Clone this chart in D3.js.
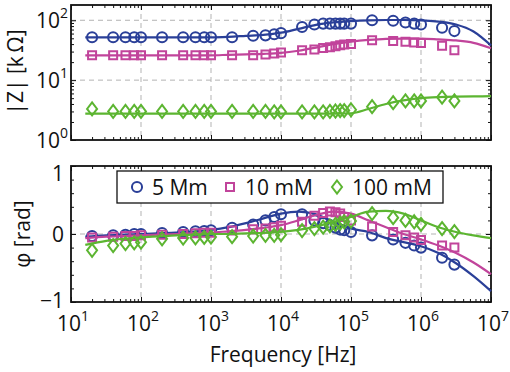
<!DOCTYPE html>
<html>
<head>
<meta charset="utf-8">
<script src="https://cdn.jsdelivr.net/npm/d3@7"></script>
<style>
body { margin: 0; background: #fff; }
text { font-family: "Open Sans", sans-serif; fill: #111; }
</style>
</head>
<body>
<svg id="chart" width="510" height="372"></svg>
<script>
// measured frequencies (Hz)
const freq = [20, 40, 60, 80, 100, 200, 400, 600, 800, 1000, 2000, 4000, 6000, 8000, 10000,
  20000, 30000, 40000, 50000, 60000, 70000, 80000, 100000, 200000, 400000, 600000, 800000, 1e6, 2e6, 3e6]

// |Z| in kOhm
const zBlue = [52, 52, 52, 52, 52, 52, 52, 52, 52, 52, 52, 55, 56, 58.5, 61,
  77, 85, 88, 88, 88, 88, 88, 88, 100, 98, 92, 88, 85, 75, 66]
const zPink = [26, 26, 26, 26, 26, 26, 26, 26, 26, 26, 26, 26.1, 26.9, 27.9, 28.9,
  31.6, 32.6, 34.5, 35.6, 36.8, 38.3, 39.4, 40, 46.4, 45.2, 43.6, 42.4, 41.9, 37.7, 31.6]
const zGreen = [3.3, 3.0, 3.0, 3.0, 3.0, 3.0, 3.0, 3.0, 3.0, 3.0, 3.0, 3.0, 3.0, 2.95, 2.95,
  2.95, 2.95, 2.95, 3.0, 3.05, 3.1, 3.1, 3.2, 3.6, 4.2, 4.5, 4.5, 4.5, 5.2, 4.5]

// phase in rad
const phBlue = [-0.03, -0.02, -0.01, 0, 0, 0.015, 0.03, 0.04, 0.045, 0.055, 0.09, 0.14, 0.2, 0.25, 0.29,
  0.29, 0.2, 0.16, 0.13, 0.094, 0.065, 0.055, 0.03, -0.02, -0.08, -0.13, -0.17, -0.2, -0.35, -0.45]
const phPink = [-0.05, -0.04, -0.03, -0.03, -0.02, -0.01, 0, 0.01, 0.02, 0.02, 0.05, 0.07, 0.08, 0.1, 0.12,
  0.18, 0.27, 0.31, 0.33, 0.32, 0.3, 0.25, 0.2, 0.11, 0.03, -0.02, -0.05, -0.09, -0.17, -0.2]
const phGreen = [-0.24, -0.17, -0.14, -0.13, -0.12, -0.07, -0.06, -0.055, -0.05, -0.045, -0.04, -0.03, -0.02, -0.02, -0.01,
  0.05, 0.08, 0.1, 0.12, 0.14, 0.16, 0.18, 0.19, 0.3, 0.24, 0.2, 0.18, 0.14, 0.08, 0.035]

// fitted curves
const fitFreq = [16, 32, 56, 100, 178, 316, 562, 1000, 1778, 3162, 5623, 10000, 17783, 31623, 56234,
  100000, 177828, 316228, 562341, 1e6, 1778279, 3162278, 5623413, 1e7]
const fitZBlue = [52, 52, 52, 52, 52, 52, 52, 52, 53, 55, 57, 62, 72, 84, 92,
  97, 100, 101, 101, 100, 95, 85, 65, 38]
const fitZPink = [26, 26, 26, 26, 26, 26, 26, 26, 26.5, 27, 27.5, 28.5, 31, 35, 40,
  44, 47, 49, 49.5, 49.5, 48, 46, 42, 34]
const fitZGreen = [2.75, 2.75, 2.75, 2.75, 2.75, 2.75, 2.75, 2.75, 2.75, 2.75, 2.75, 2.75, 2.75, 2.75, 2.75,
  2.8, 3.3, 4.0, 4.6, 5.0, 5.2, 5.3, 5.35, 5.4]
const fitPhBlue = [-0.04, -0.02, -0.01, 0, 0.01, 0.02, 0.035, 0.06, 0.1, 0.16, 0.23, 0.3, 0.33, 0.29, 0.18,
  0.08, 0.03, -0.06, -0.12, -0.18, -0.28, -0.43, -0.62, -0.84]
const fitPhPink = [-0.06, -0.04, -0.03, -0.02, -0.01, 0, 0.01, 0.02, 0.04, 0.06, 0.09, 0.13, 0.2, 0.28, 0.33,
  0.3, 0.2, 0.1, 0.0, -0.08, -0.17, -0.28, -0.42, -0.59]
const fitPhGreen = [-0.16, -0.1, -0.07, -0.05, -0.035, -0.02, -0.01, 0, 0, 0.01, 0.015, 0.03, 0.06, 0.11, 0.18,
  0.25, 0.33, 0.34, 0.3, 0.2, 0.1, 0.03, -0.02, -0.06]

const seriesNames = ['5 Mm', '10 mM', '100 mM']
const seriesColors = ['#2a3f98', '#c1449b', '#5cb531']
const xTicks = [1e1, 1e2, 1e3, 1e4, 1e5, 1e6, 1e7]
const zTicks = [1, 10, 100]
const phTicks = [-1, 0, 1]

const svg = d3.select('#chart')
const left = 71, right = 491

const x = d3.scaleLog().domain([10, 1e7]).range([left, right])
const yZ = d3.scaleLog().domain([1, 180]).range([140, 5])
const yP = d3.scaleLinear().domain([-1, 1]).range([302, 166])

const xMinor = []
for (let d = 1; d < 7; d++) for (let m = 2; m < 10; m++) xMinor.push(m * Math.pow(10, d))
const zMinor = []
for (let d = 0; d < 3; d++) for (let m = 2; m < 10; m++) if (m * Math.pow(10, d) < 180) zMinor.push(m * Math.pow(10, d))
const pMinor = d3.range(-0.8, 0.81, 0.2)

function panel(y, yTicks, yMinor, top, bottom, gridY){
    const g = svg.append('g')
    // dashed grid
    g.selectAll('.gx').data(xTicks.slice(1, -1)).enter().append('line')
        .attr('x1', d => x(d)).attr('x2', d => x(d))
        .attr('y1', top).attr('y2', bottom)
        .attr('stroke', '#b3b3b3').attr('stroke-dasharray', '5,4')
    g.selectAll('.gy').data(gridY).enter().append('line')
        .attr('x1', left).attr('x2', right)
        .attr('y1', d => y(d)).attr('y2', d => y(d))
        .attr('stroke', '#b3b3b3').attr('stroke-dasharray', '5,4')

    // ticks on all four sides, pointing inward
    const axes = [
        [d3.axisBottom(x).tickValues(xTicks).tickSize(-5), `translate(0,${bottom})`],
        [d3.axisBottom(x).tickValues(xMinor).tickSize(-3), `translate(0,${bottom})`],
        [d3.axisTop(x).tickValues(xTicks).tickSize(-5), `translate(0,${top})`],
        [d3.axisTop(x).tickValues(xMinor).tickSize(-3), `translate(0,${top})`],
        [d3.axisLeft(y).tickValues(yTicks).tickSize(-5), `translate(${left},0)`],
        [d3.axisLeft(y).tickValues(yMinor).tickSize(-3), `translate(${left},0)`],
        [d3.axisRight(y).tickValues(yTicks).tickSize(-5), `translate(${right},0)`],
        [d3.axisRight(y).tickValues(yMinor).tickSize(-3), `translate(${right},0)`]
    ]
    axes.forEach(([ax, tr]) => {
        const a = g.append('g').attr('transform', tr).call(ax.tickFormat(''))
        a.select('.domain').remove()
        a.selectAll('line').attr('stroke', '#111').attr('stroke-width', 1)
    })
    g.append('rect')
        .attr('x', left).attr('y', top)
        .attr('width', right - left).attr('height', bottom - top)
        .attr('fill', 'none').attr('stroke', '#111').attr('stroke-width', 1.8)
    return g
}

function supText(g, xPos, yPos, base, exp, anchor){
    const t = g.append('text').attr('x', xPos).attr('y', yPos)
        .attr('text-anchor', anchor).attr('font-size', 21)
    t.append('tspan').text(base)
    t.append('tspan').attr('dy', -10).attr('font-size', 14).text(exp)
}

const gTop = panel(yZ, zTicks, zMinor, 5, 140, [10, 100])
const gBot = panel(yP, phTicks, pMinor, 166, 302, [0])

// tick labels
zTicks.forEach(t => supText(svg, 68, yZ(t) + 8, '10', Math.log10(t), 'end'))
xTicks.forEach(t => supText(svg, x(t) + 2, 331, '10', Math.log10(t), 'middle'))
phTicks.forEach(t => {
    svg.append('text')
        .attr('x', 64).attr('y', Math.min(Math.max(yP(t), 173), 300) + 8)
        .attr('text-anchor', 'end').attr('font-size', 21)
        .text(t < 0 ? '\u2212' + Math.abs(t) : t)
})

// axis titles
svg.append('text').attr('x', 283).attr('y', 362)
    .attr('text-anchor', 'middle').attr('font-size', 21).text('Frequency [Hz]')
svg.append('text').attr('transform', 'translate(23,72) rotate(-90)')
    .attr('text-anchor', 'middle').attr('font-size', 21).text('|Z| [k\u2009\u03a9]')
svg.append('text').attr('transform', 'translate(30,234) rotate(-90)')
    .attr('text-anchor', 'middle').attr('font-size', 21).text('\u03c6 [rad]')

// markers
const shapes = [
    d3.symbol().type(d3.symbolCircle).size(80)(),
    d3.symbol().type(d3.symbolSquare).size(64)(),
    'M0,-6.5L5,0L0,6.5L-5,0Z'
]

function drawSeries(g, y, fitVals, vals, i){
    const line = d3.line()
        .x((d, k) => x(fitFreq[k]))
        .y(d => y(d))
        .curve(d3.curveMonotoneX)
    g.append('path').datum(fitVals)
        .attr('d', line)
        .attr('fill', 'none').attr('stroke', seriesColors[i]).attr('stroke-width', 2.2)
    g.selectAll('.m' + i).data(vals).enter().append('path')
        .attr('transform', (d, k) => `translate(${x(freq[k])},${y(d)})`)
        .attr('d', shapes[i])
        .attr('fill', 'none').attr('stroke', seriesColors[i]).attr('stroke-width', 2)
}

const plotTop = svg.append('g')
const plotBot = svg.append('g')
;[[fitZBlue, zBlue], [fitZPink, zPink], [fitZGreen, zGreen]].forEach((s, i) => drawSeries(plotTop, yZ, s[0], s[1], i))
;[[fitPhBlue, phBlue], [fitPhPink, phPink], [fitPhGreen, phGreen]].forEach((s, i) => drawSeries(plotBot, yP, s[0], s[1], i))

// legend
const leg = svg.append('g')
leg.append('rect').attr('x', 117).attr('y', 171).attr('width', 326).attr('height', 32)
    .attr('fill', '#fff').attr('stroke', '#111').attr('stroke-width', 1.3)
const legX = [137, 230, 337]
seriesNames.forEach((name, i) => {
    leg.append('path').attr('transform', `translate(${legX[i]},187)`)
        .attr('d', shapes[i])
        .attr('fill', 'none').attr('stroke', seriesColors[i]).attr('stroke-width', 2)
    leg.append('text').attr('x', legX[i] + 15).attr('y', 195)
        .attr('font-size', 21).text(name)
})
</script>
</body>
</html>
